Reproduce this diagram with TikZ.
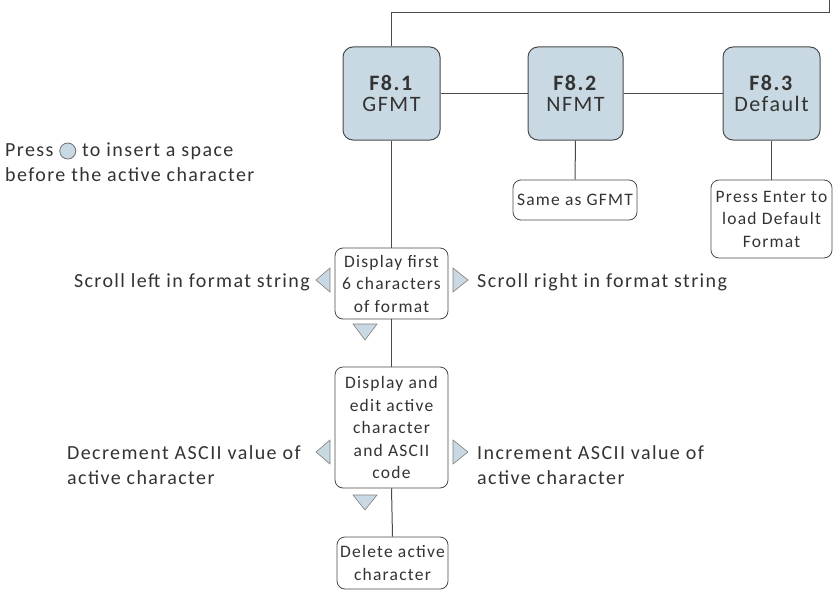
\documentclass[tikz,border=0pt]{standalone}
\usepackage{fontspec}
\setmainfont{Carlito}[LetterSpace=7]
\begin{document}
\begin{tikzpicture}[x=1pt,y=-1pt,
  every node/.style={text=txt},
  fbox/.style={draw=edge,line width=1pt,fill=boxfill,rounded corners=10pt,align=center,inner sep=0pt,font=\fontsize{22}{21}\selectfont},
  wbox/.style={draw=edge,line width=0.8pt,fill=white,rounded corners=8pt,align=center,inner sep=0pt,font=\fontsize{17.5}{22.5}\selectfont},
  lbl/.style={align=left,inner sep=0pt,font=\fontsize{20}{24.5}\selectfont},
  tri/.style={draw=edge!70,line width=0.6pt,fill=boxfill},
  conn/.style={draw=edge,line width=1pt}]
\definecolor{boxfill}{HTML}{C9D9E3}
\definecolor{edge}{HTML}{4A4A4A}
\definecolor{txt}{HTML}{333333}
\useasboundingbox (0,0) rectangle (834,591);
% main boxes
\node[fbox,minimum width=97pt,minimum height=93pt] (f1) at (391.5,93.5) {\textbf{F8.1}\\GFMT};
\node[fbox,minimum width=95pt,minimum height=93pt] (f2) at (575.5,93.5) {\textbf{F8.2}\\NFMT};
\node[fbox,minimum width=97pt,minimum height=93pt] (f3) at (771.5,93.5) {\textbf{F8.3}\\Default};
% sub boxes
\node[wbox,minimum width=124pt,minimum height=40pt] (same) at (575,200) {Same as GFMT};
\node[wbox,minimum width=121pt,minimum height=78pt] (enter) at (771.5,219) {Press Enter to\\load Default\\Format};
\node[wbox,minimum width=113pt,minimum height=71pt] (d1) at (391.5,283.5) {Display first\\6 characters\\of format};
\node[wbox,minimum width=113pt,minimum height=121pt] (d2) at (391.5,427.5) {Display and\\edit active\\character\\and ASCII\\code};
\node[wbox,minimum width=111pt,minimum height=52pt] (del) at (392.5,563) {Delete active\\character};
% connectors
\coordinate (c1) at (391.5,13);
\coordinate (c2) at (829,13);
\coordinate (c3) at (829,-1);
\draw[conn] (f1.north) -- (c1) -- (c2) -- (c3);
\draw[conn] (f1.east) -- (f2.west);
\draw[conn] (f2.east) -- (f3.west);
\draw[conn] (f2.south) -- (same.north);
\draw[conn] (f3.south) -- (enter.north);
\draw[conn] (f1.south) -- (d1.north);
\draw[conn] (d1.south) -- (d2.north);
\draw[conn] (d2.south) -- (del.north);
% triangles
\draw[tri] (316,280) -- (330,268) -- (330,292) -- cycle;
\draw[tri] (468,280) -- (453,268) -- (453,292) -- cycle;
\draw[tri] (365,340) -- (353,324) -- (377,324) -- cycle;
\draw[tri] (316,452) -- (330,440) -- (330,464) -- cycle;
\draw[tri] (468,452) -- (453,440) -- (453,464) -- cycle;
\draw[tri] (365,510) -- (353,495) -- (377,495) -- cycle;
% labels
\node[lbl,anchor=east] (sl) at (310,282) {Scroll left in format string};
\node[lbl,anchor=west] (sr) at (477,282) {Scroll right in format string};
\node[lbl,anchor=west] (dec) at (67,465) {Decrement ASCII value of\\active character};
\node[lbl,anchor=west] (inc) at (477,465) {Increment ASCII value of\\active character};
\node[lbl,anchor=west] (press) at (5,162) {Press \tikz[baseline=-0.6ex]\draw[draw=edge!80,line width=0.8pt,fill=boxfill] (0,0) circle (8pt); to insert a space\\before the active character};
\end{tikzpicture}
\end{document}
